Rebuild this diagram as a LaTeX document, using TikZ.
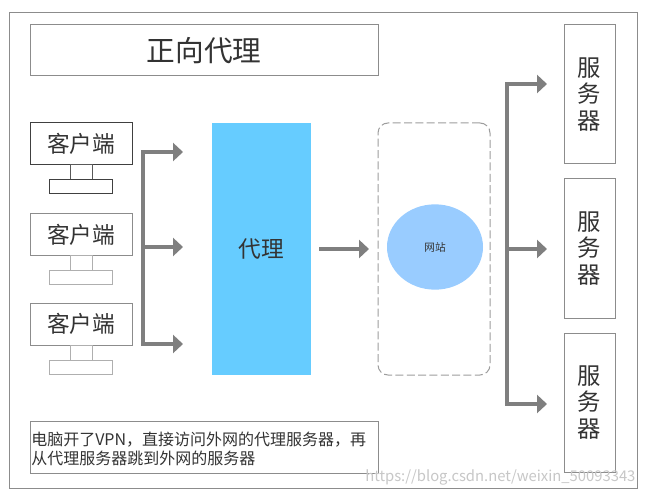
\documentclass[tikz,border=0pt]{standalone}
\usepackage{fontspec}
\usepackage{xcolor}
\usetikzlibrary{arrows.meta,shapes.geometric}
\setmainfont{Noto Sans CJK SC}
\definecolor{ProxyBlue}{HTML}{66CCFF}
\definecolor{SiteBlue}{HTML}{99CCFF}
\definecolor{EdgeGray}{HTML}{8C8C8C}
\definecolor{FlowGray}{HTML}{7F7F7F}
\definecolor{InkGray}{HTML}{333333}
\begin{document}
\begin{tikzpicture}[
      x=0.75pt,
      y=-0.75pt,
      box/.style={draw=EdgeGray,line width=0.75pt,fill=white,inner sep=0pt,text=InkGray},
      client/.style={box,minimum width=76.5pt,minimum height=31.5pt,font=\fontsize{17}{20}\selectfont},
      neck/.style={box,draw=EdgeGray!70,minimum width=16.5pt,minimum height=11.25pt},
      base/.style={box,draw=EdgeGray!70,minimum width=47.25pt,minimum height=10.5pt},
      server/.style={box,minimum width=38.25pt,minimum height=104.25pt,align=center,font=\fontsize{17.5}{20}\selectfont},
      flow/.style={draw=FlowGray,line width=3pt,-{Triangle[length=7.5pt,width=13.5pt]}},
      trunk/.style={draw=FlowGray,line width=3pt,line cap=rect}
    ]
      \path[use as bounding box] (0,0) rectangle (645,495);
      \node[box,anchor=north west,minimum width=471pt,minimum height=357pt] (frame) at (9,12) {};
      \node[box,minimum width=261pt,minimum height=38.25pt,font=\fontsize{21.5}{26}\selectfont] (title) at (204,50.5) {正向代理};

      \node[client,draw=black!75] (clientA) at (81,143.5) {客户端};
      \node[neck,draw=black!65] (neckA) at (81,172) {};
      \node[base,draw=black!75] (baseA) at (81,186.5) {};
      \node[client] (clientB) at (81,234.5) {客户端};
      \node[neck] (neckB) at (81,263) {};
      \node[base] (baseB) at (81,277.5) {};
      \node[client] (clientC) at (81,324) {客户端};
      \node[neck] (neckC) at (81,353) {};
      \node[base] (baseC) at (81,367) {};

      \coordinate (busTop) at (143,152);
      \coordinate (busMid) at (143,247);
      \coordinate (busLow) at (143,344);
      \coordinate (tipTop) at (183,152);
      \coordinate (tipMid) at (183,247);
      \coordinate (tipLow) at (183,344);
      \draw[trunk] (busTop) -- (busLow);
      \draw[flow] (busTop) -- (tipTop);
      \draw[flow] (busMid) -- (tipMid);
      \draw[flow] (busLow) -- (tipLow);

      \node[fill=ProxyBlue,inner sep=0pt,minimum width=74.25pt,minimum height=189pt,text=InkGray,font=\fontsize{17}{20}\selectfont] (proxy) at (261.5,249) {代理};
      \node[draw=EdgeGray!85,dash pattern=on 6pt off 2.5pt,line width=0.75pt,rounded corners=7.5pt,minimum width=84pt,minimum height=189pt] (cloud) at (434,249) {};
      \node[ellipse,fill=SiteBlue,inner sep=0pt,minimum width=72pt,minimum height=64pt,text=InkGray,font=\fontsize{8}{10}\selectfont] (site) at (435,247) {网站};
      \coordinate (proxyOut) at (319,249);
      \coordinate (cloudIn) at (369,249);
      \draw[flow] (proxyOut) -- (cloudIn);

      \node[server] (serverA) at (589.5,94.5) {服\\务\\器};
      \node[server] (serverB) at (589.5,248.5) {服\\务\\器};
      \node[server] (serverC) at (589.5,402.5) {服\\务\\器};

      \coordinate (hubTop) at (507,84);
      \coordinate (hubMid) at (507,249);
      \coordinate (hubLow) at (507,404);
      \coordinate (endTop) at (547,84);
      \coordinate (endMid) at (547,249);
      \coordinate (endLow) at (547,404);
      \draw[trunk] (hubTop) -- (hubLow);
      \draw[flow] (hubTop) -- (endTop);
      \draw[flow] (hubMid) -- (endMid);
      \draw[flow] (hubLow) -- (endLow);

      \node[box,minimum width=261pt,minimum height=39pt] (noteBox) at (204,447) {};
      \node[anchor=west,inner sep=0pt,align=left,text=InkGray,font=\fontsize{12}{14.25}\selectfont] (note) at (31,449) {电脑开了VPN，直接访问外网的代理服务器，再\\从代理服务器跳到外网的服务器};
      \node[anchor=west,inner sep=0pt,text=black!22,font=\fontsize{11.1}{14}\selectfont] (mark) at (365,477) {https://blog.csdn.net/weixin\_50093343};
    \end{tikzpicture}
\end{document}
